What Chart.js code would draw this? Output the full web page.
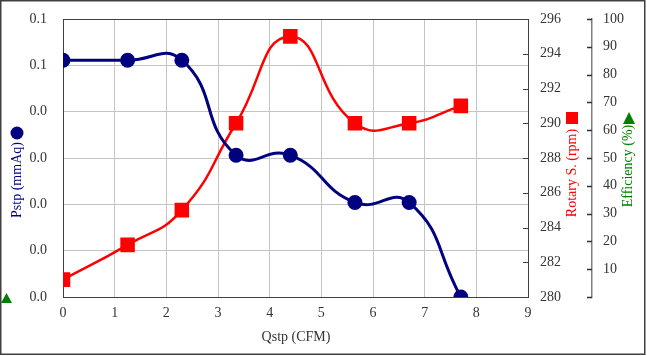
<!DOCTYPE html>
<html>
<head>
<meta charset="utf-8">
<script src="https://cdn.jsdelivr.net/npm/chart.js@4.4.0/dist/chart.umd.min.js"></script>
<style>
html,body{margin:0;padding:0;background:#fff;}
#wrap{width:647px;height:356px;position:relative;}
</style>
</head>
<body>
<div id="wrap"><canvas id="c" width="647" height="356"></canvas></div>
<script>
// ---- data ----
const qstp = [0, 1.25, 2.3, 3.35, 4.4, 5.65, 6.7, 7.7];
const pstp = [0.0511, 0.0511, 0.0511, 0.0306, 0.0306, 0.0204, 0.0204, 0];
const rotary = [281, 283, 285, 290, 295, 290, 290, 291];
const efficiency = [];
const pstpTickLabels = ['0.0', '0.0', '0.0', '0.0', '0.0', '0.1', '0.1'];
const xTitle = 'Qstp (CFM)';
const leftTitle = 'Pstp (mmAq)';
const rpmTitle = 'Rotary S. (rpm)';
const effTitle = 'Efficiency (%)';

const FONT = "'Liberation Serif', 'Times New Roman', serif";
const NAVY = '#000080', RED = '#ff0000', GREEN = '#008000';
const AX = '#404040';
const CLEAR = 'rgba(0,0,0,0)';

function pts(xs, ys) { return ys.map((y, i) => ({x: xs[i], y: y})); }

const deco = {
  id: 'deco',
  beforeDatasetsDraw(chart) {
    const ctx = chart.ctx, a = chart.chartArea;
    ctx.save();
    ctx.strokeStyle = AX; ctx.lineWidth = 1;
    ctx.strokeRect(Math.round(a.left) + 0.5, Math.round(a.top) + 0.5, Math.round(a.right - a.left), Math.round(a.bottom - a.top));
    const y1 = chart.scales.y1;
    ctx.beginPath();
    y1.ticks.forEach(t => {
      const py = Math.round(y1.getPixelForValue(t.value)) + 0.5;
      ctx.moveTo(y1.left - 5, py); ctx.lineTo(y1.left, py);
    });
    ctx.stroke();
    const y2 = chart.scales.y2;
    ctx.strokeStyle = '#303030';
    ctx.lineWidth = 1.5;
    ctx.beginPath();
    y2.ticks.forEach(t => {
      const py = Math.round(y2.getPixelForValue(t.value)) + 0.5;
      ctx.moveTo(y2.left - 5, py); ctx.lineTo(y2.left, py);
    });
    ctx.stroke();
    ctx.restore();
  },
  afterDraw(chart) {
    const ctx = chart.ctx;
    ctx.save();
    ctx.font = '14px ' + FONT;
    ctx.textAlign = 'center';
    ctx.textBaseline = 'middle';
    ctx.fillStyle = '#333';
    ctx.fillText(xTitle, 296, 337);
    function vtext(txt, x, y, col) {
      ctx.save(); ctx.translate(x, y); ctx.rotate(-Math.PI / 2);
      ctx.fillStyle = col; ctx.fillText(txt, 0, 0); ctx.restore();
    }
    vtext(leftTitle, 17, 180, NAVY);
    vtext(rpmTitle, 572, 173, RED);
    vtext(effTitle, 628, 166, GREEN);
    ctx.fillStyle = NAVY;
    ctx.beginPath(); ctx.arc(17, 133, 6.5, 0, Math.PI * 2); ctx.fill();
    ctx.fillStyle = RED;
    ctx.fillRect(566, 112, 12, 12);
    ctx.fillStyle = GREEN;
    ctx.beginPath(); ctx.moveTo(623, 124); ctx.lineTo(635, 124); ctx.lineTo(629, 112); ctx.closePath(); ctx.fill();
    ctx.beginPath(); ctx.moveTo(1, 303); ctx.lineTo(12, 303); ctx.lineTo(6.5, 293); ctx.closePath(); ctx.fill();
    ctx.strokeStyle = '#404040'; ctx.lineWidth = 1.5;
    ctx.strokeRect(0.75, 0.75, 644, 353.5);
    ctx.restore();
  }
};

new Chart(document.getElementById('c'), {
  type: 'line',
  data: {
    datasets: [
      {
        label: leftTitle, data: pts(qstp, pstp), yAxisID: 'y',
        borderColor: NAVY, backgroundColor: NAVY, borderWidth: 3,
        pointRadius: 6, pointHoverRadius: 6, pointStyle: 'circle', tension: 0.5
      },
      {
        label: rpmTitle, data: pts(qstp, rotary), yAxisID: 'y1',
        borderColor: RED, backgroundColor: RED, borderWidth: 2.5,
        pointRadius: 8.5, pointHoverRadius: 8.5, pointStyle: 'rect', tension: 0.5
      },
      {
        label: effTitle, data: pts(qstp, efficiency), yAxisID: 'y2',
        borderColor: GREEN, backgroundColor: GREEN, pointStyle: 'triangle'
      }
    ]
  },
  options: {
    responsive: false, animation: false,
    events: [],
    layout: {padding: {left: 23, right: 10, top: 19, bottom: 0}},
    plugins: {legend: {display: false}, tooltip: {enabled: false}},
    scales: {
      x: {
        type: 'linear', position: 'bottom', min: 0, max: 9,
        ticks: {stepSize: 1, color: '#333', font: {family: FONT, size: 14}, padding: 8},
        grid: {color: '#c4c4c4', drawTicks: false},
        border: {color: AX},
        afterFit(s) { s.height = 59; }
      },
      y: {
        position: 'left', min: 0, max: 0.06,
        ticks: {stepSize: 0.01, color: '#333', font: {family: FONT, size: 14}, padding: 0,
          callback: (v, i) => pstpTickLabels[i]},
        grid: {color: '#c4c4c4', drawTicks: true, tickLength: 16, tickColor: CLEAR},
        border: {color: AX},
        afterFit(s) { s.width = 40; }
      },
      y1: {
        position: 'right', min: 280, max: 296,
        ticks: {stepSize: 2, color: '#333', font: {family: FONT, size: 14}, padding: 0},
        grid: {drawOnChartArea: false, drawTicks: true, tickLength: 12, tickColor: CLEAR},
        border: {color: AX},
        afterFit(s) { s.width = 64; }
      },
      y2: {
        position: 'right', min: 0, max: 100,
        ticks: {stepSize: 10, color: '#333', font: {family: FONT, size: 14}, padding: 0,
          callback: v => v === 0 ? '' : String(v)},
        grid: {drawOnChartArea: false, drawTicks: true, tickLength: 11, tickColor: CLEAR},
        border: {color: '#808080', width: 1.5},
        afterFit(s) { s.width = 45; }
      }
    }
  },
  plugins: [deco]
});
</script>
</body>
</html>
